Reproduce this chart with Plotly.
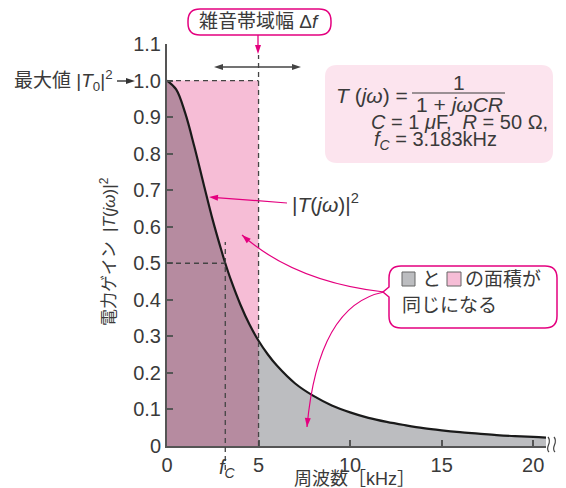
import math
import plotly.graph_objects as go

# ---------------- data ----------------
freq_khz = [0, 0.5, 1, 1.5, 2, 2.5, 3, 3.183, 3.5, 4, 4.5, 5, 5.5, 6, 7, 8, 9,
            10, 11, 12, 13, 14, 15, 16, 17, 18, 19, 20, 20.7]
gain = [1.000, 0.976, 0.910, 0.818, 0.717, 0.618, 0.530, 0.500, 0.453, 0.388,
        0.333, 0.288, 0.251, 0.220, 0.171, 0.137, 0.111, 0.092, 0.077, 0.066,
        0.057, 0.049, 0.043, 0.038, 0.034, 0.030, 0.027, 0.025, 0.023]
fc_khz = 3.183
noise_bw_khz = 5.0
max_gain = 1.0
half_gain = 0.5

x_ticks = [0, 5, 10, 15, 20]
x_ticklabels = ["0", "5", "10", "15", "20"]
y_ticks = [0, 0.1, 0.2, 0.3, 0.4, 0.5, 0.6, 0.7, 0.8, 0.9, 1.0, 1.1]
y_ticklabels = ["0", "0.1", "0.2", "0.3", "0.4", "0.5", "0.6", "0.7", "0.8",
                "0.9", "1.0", "1.1"]

# ---------------- geometry / style ----------------
W, H = 566, 488
L, R, T, B = 167, 20, 44, 42
XMAX, YMAX = 20.7, 1.1
PW, PH = W - L - R, H - T - B

FONT = "Liberation Sans, Noto Sans CJK JP, sans-serif"
TXT = "#3a3a3a"
MAG = "#e4007f"
PINK = "#f6bdd6"
GRAY = "#bcbdc0"
MAUVE = "#b68ba0"
BOXPINK = "#fce4ee"


def px(x):  # pixel -> paper
    return (x - L) / PW


def py(y):
    return (H - B - y) / PH


def rrect(x0, y0, x1, y1, r, notch=None):
    s = (f"M{px(x0 + r)},{py(y0)} L{px(x1 - r)},{py(y0)} "
         f"Q{px(x1)},{py(y0)} {px(x1)},{py(y0 + r)} "
         f"L{px(x1)},{py(y1 - r)} Q{px(x1)},{py(y1)} {px(x1 - r)},{py(y1)} "
         f"L{px(x0 + r)},{py(y1)} Q{px(x0)},{py(y1)} {px(x0)},{py(y1 - r)} ")
    if notch:
        nx, ny, hw = notch
        s += f"L{px(x0)},{py(ny + hw)} L{px(nx)},{py(ny)} L{px(x0)},{py(ny - hw)} "
    s += f"L{px(x0)},{py(y0 + r)} Q{px(x0)},{py(y0)} {px(x0 + r)},{py(y0)} Z"
    return s


fig = go.Figure()

# gray area under whole curve
fig.add_trace(go.Scatter(x=freq_khz, y=gain, mode="lines", fill="tozeroy",
                         fillcolor=GRAY, line=dict(width=0, shape="spline"),
                         hoverinfo="skip", showlegend=False))
# overlap (mauve) under curve up to noise bandwidth
k = freq_khz.index(noise_bw_khz) + 1
fig.add_trace(go.Scatter(x=freq_khz[:k], y=gain[:k], mode="lines", fill="tozeroy",
                         fillcolor=MAUVE, line=dict(width=0, shape="spline"),
                         hoverinfo="skip", showlegend=False))
# curve
fig.add_trace(go.Scatter(x=freq_khz, y=gain, mode="lines",
                         line=dict(color="#1a1a1a", width=2.2, shape="spline"),
                         hoverinfo="skip", showlegend=False))

shapes = []
# pink equivalent rectangle
shapes.append(dict(type="rect", xref="x", yref="y", x0=0, x1=noise_bw_khz,
                   y0=0, y1=max_gain, fillcolor=PINK, line=dict(width=0),
                   layer="below"))
dash = dict(color="#444", width=1.3, dash="5px,4px")
shapes.append(dict(type="line", xref="x", yref="y", x0=0, x1=noise_bw_khz,
                   y0=max_gain, y1=max_gain, line=dash))
shapes.append(dict(type="line", xref="paper", yref="paper", x0=noise_bw_khz / XMAX,
                   x1=noise_bw_khz / XMAX, y0=0, y1=py(55), line=dash))
shapes.append(dict(type="line", xref="x", yref="y", x0=0, x1=fc_khz,
                   y0=half_gain, y1=half_gain, line=dash))
shapes.append(dict(type="line", xref="paper", yref="paper", x0=fc_khz / XMAX,
                   x1=fc_khz / XMAX, y0=py(470), y1=py(242), line=dash))

# axis break squiggles
for ox in (549, 555):
    shapes.append(dict(type="path", xref="paper", yref="paper",
                       path=(f"M{px(ox)},{py(452)} C{px(ox - 5)},{py(447)} "
                             f"{px(ox + 4)},{py(443)} {px(ox - 1)},{py(437)}"),
                       line=dict(color="#444", width=1.2)))

# formula box
shapes.append(dict(type="path", xref="paper", yref="paper",
                   path=rrect(325, 65, 553, 163, 12), fillcolor=BOXPINK,
                   line=dict(width=0), layer="below"))
# fraction bar
shapes.append(dict(type="line", xref="paper", yref="paper", x0=px(412), x1=px(505),
                   y0=py(93), y1=py(93), line=dict(color=TXT, width=1.2)))

# top callout box
shapes.append(dict(type="path", xref="paper", yref="paper",
                   path=rrect(188, 9, 331, 35, 12), fillcolor="white",
                   line=dict(color=MAG, width=1.5)))
# area callout box
shapes.append(dict(type="path", xref="paper", yref="paper",
                   path=rrect(389, 266, 557, 328, 12, notch=(383, 292, 5)),
                   fillcolor="white", line=dict(color=MAG, width=1.5)))
# legend swatches
shapes.append(dict(type="rect", xref="paper", yref="paper", x0=px(402), x1=px(415),
                   y0=py(286), y1=py(272), fillcolor=GRAY,
                   line=dict(color="#666", width=1)))
shapes.append(dict(type="rect", xref="paper", yref="paper", x0=px(447), x1=px(461),
                   y0=py(286), y1=py(272), fillcolor=PINK,
                   line=dict(color="#666", width=1)))


def head(tip, frm, color, hl=9.0, hw=6.0):
    vx, vy = tip[0] - frm[0], tip[1] - frm[1]
    n = math.hypot(vx, vy)
    ux, uy = vx / n, vy / n
    bx, by = tip[0] - hl * ux, tip[1] - hl * uy
    nx, ny = -uy, ux
    p1 = (bx + hw / 2 * nx, by + hw / 2 * ny)
    p2 = (bx - hw / 2 * nx, by - hw / 2 * ny)
    shapes.append(dict(type="path", xref="paper", yref="paper",
                       path=(f"M{px(tip[0])},{py(tip[1])} L{px(p1[0])},{py(p1[1])} "
                             f"L{px(p2[0])},{py(p2[1])} Z"),
                       fillcolor=color, line=dict(width=0)))
    return (bx + 2 * ux, by + 2 * uy)


def arrow(tail, tip, color, width=1.2, both=False):
    a = head(tip, tail, color)
    b = head(tail, tip, color) if both else tail
    shapes.append(dict(type="line", xref="paper", yref="paper",
                       x0=px(b[0]), y0=py(b[1]), x1=px(a[0]), y1=py(a[1]),
                       line=dict(color=color, width=width)))


# curved magenta arrows
curves = [((384, 292), (295, 282), (242, 235)),
          ((384, 292), (318, 305), (307, 427))]
for p0, c, p2 in curves:
    shapes.append(dict(type="path", xref="paper", yref="paper",
                       path=(f"M{px(p0[0])},{py(p0[1])} Q{px(c[0])},{py(c[1])} "
                             f"{px(p2[0])},{py(p2[1])}"),
                       line=dict(color=MAG, width=1.2)))
    head(p2, c, MAG)

# straight arrows
arrow((287, 203), (209, 197), MAG)
arrow((258, 35), (258, 54), MAG, 1.3)
arrow((214, 67), (301, 67), "#444", 1.4, both=True)
arrow((117, 81), (135, 81), "#333", 1.4)

annotations = []


def txt(x, y, s, size=17, xa="center", ya="middle", angle=0):
    annotations.append(dict(x=px(x), y=py(y), xref="paper", yref="paper",
                            text=s, showarrow=False, xanchor=xa, yanchor=ya,
                            textangle=angle,
                            font=dict(family=FONT, size=size, color=TXT)))


txt(259, 21, "雑音帯域幅 Δ<i>f</i>", 19)
txt(115, 80, "最大値 |<i>T</i><sub>0</sub>|<sup>2</sup>", 19, xa="right")
txt(290, 203, "|<i>T</i>(<i>jω</i>)|<sup>2</sup>", 21, xa="left")
txt(108, 252, "電力ゲイン  |<i>T</i>(<i>jω</i>)|<sup>2</sup>", 17, angle=-90)
txt(354, 479, "周波数［kHz］", 18)
txt(227, 469, "<i>f</i><sub><i>C</i></sub>", 20)
# formula
txt(410, 95, "<i>T</i> (<i>jω</i>) =", 21, xa="right")
txt(459, 82, "1", 21)
txt(459, 104, "1 + <i>jωCR</i>", 21)
txt(369, 122, "<i>C</i> = 1 <i>μ</i>F,  <i>R</i> = 50 Ω,", 20, xa="left")
txt(372, 140, "<i>f</i><sub><i>C</i></sub> = 3.183kHz", 20, xa="left")
# area callout text
txt(431, 279, "と", 19)
txt(463, 279, "の面積が", 19, xa="left")
txt(400, 305, "同じになる", 19, xa="left")

axis_common = dict(showgrid=False, zeroline=False, showline=True,
                   linecolor="#555", linewidth=2, ticks="inside", ticklen=6,
                   tickwidth=1.5, tickcolor="#555",
                   tickfont=dict(family=FONT, size=20, color=TXT))

fig.update_layout(
    width=W, height=H, margin=dict(l=L, r=R, t=T, b=B),
    paper_bgcolor="white", plot_bgcolor="white",
    xaxis=dict(range=[0, XMAX], tickvals=x_ticks, ticktext=x_ticklabels,
               **axis_common),
    yaxis=dict(range=[0, YMAX], tickvals=y_ticks, ticktext=y_ticklabels,
               **axis_common),
    shapes=shapes, annotations=annotations, showlegend=False,
)

fig.write_html("out.html", config={"displayModeBar": False},
               post_script="document.body.style.margin='0px';")
